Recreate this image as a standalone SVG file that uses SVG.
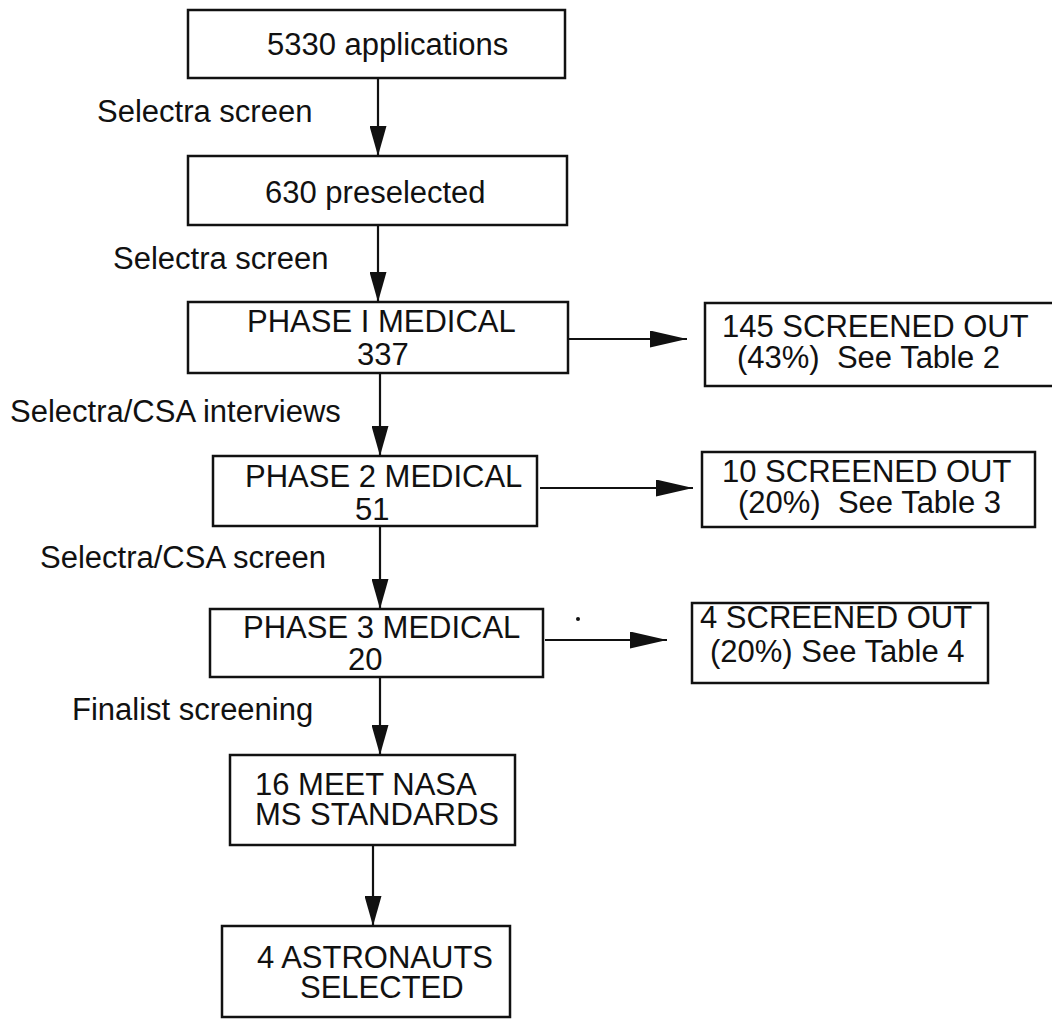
<svg xmlns="http://www.w3.org/2000/svg" width="1052" height="1019" viewBox="0 0 1052 1019">
<style>
  .box { fill: #fff; stroke: #111; stroke-width: 2.5; }
  .t { font-family: "Liberation Sans", Arial, Helvetica, sans-serif; font-size: 31px; fill: #111; }
  .conn { stroke: #111; stroke-width: 2.2; fill: none; }
</style>
<defs>
  <marker id="av" markerUnits="userSpaceOnUse" markerWidth="31" markerHeight="17" refX="30" refY="8.5" orient="auto">
    <path d="M0,0 L30,8.5 L0,17 z" fill="#111"/>
  </marker>
  <marker id="ah" markerUnits="userSpaceOnUse" markerWidth="38" markerHeight="17" refX="37" refY="8.5" orient="auto">
    <path d="M0,0 L37,8.5 L0,17 z" fill="#111"/>
  </marker>
</defs>
<rect width="1052" height="1019" fill="#fff"/>

<g id="connectors">
  <line class="conn" x1="378" y1="78" x2="378" y2="156" marker-end="url(#av)"/>
  <line class="conn" x1="378" y1="225" x2="378" y2="302" marker-end="url(#av)"/>
  <line class="conn" x1="380" y1="373" x2="380" y2="456" marker-end="url(#av)"/>
  <line class="conn" x1="380" y1="526" x2="380" y2="609" marker-end="url(#av)"/>
  <line class="conn" x1="380" y1="677" x2="380" y2="755" marker-end="url(#av)"/>
  <line class="conn" x1="373" y1="845" x2="373" y2="926" marker-end="url(#av)"/>
  <line class="conn" x1="568" y1="339" x2="687" y2="339" marker-end="url(#ah)"/>
  <line class="conn" x1="540" y1="488" x2="693" y2="488" marker-end="url(#ah)"/>
  <line class="conn" x1="545" y1="640" x2="667" y2="640" marker-end="url(#ah)"/>
</g>

<g id="labels">
  <text class="t" x="97" y="122">Selectra screen</text>
  <text class="t" x="113" y="269">Selectra screen</text>
  <text class="t" x="10" y="422">Selectra/CSA interviews</text>
  <text class="t" x="40" y="568">Selectra/CSA screen</text>
  <text class="t" x="72" y="720">Finalist screening</text>
</g>

<g id="n-applications">
  <rect class="box" x="188" y="10" width="377" height="68"/>
  <text class="t" x="267" y="55">5330 applications</text>
</g>
<g id="n-preselected">
  <rect class="box" x="188" y="156" width="379" height="69"/>
  <text class="t" x="265" y="203">630 preselected</text>
</g>
<g id="n-phase1">
  <rect class="box" x="188" y="302" width="380" height="71"/>
  <text class="t" x="247" y="332">PHASE I MEDICAL</text>
  <text class="t" x="357" y="365">337</text>
</g>
<g id="n-phase2">
  <rect class="box" x="213" y="456" width="324" height="70"/>
  <text class="t" x="245" y="487">PHASE 2 MEDICAL</text>
  <text class="t" x="355" y="520">51</text>
</g>
<g id="n-phase3">
  <rect class="box" x="210" y="609" width="333" height="68"/>
  <text class="t" x="243" y="638">PHASE 3 MEDICAL</text>
  <text class="t" x="348" y="670">20</text>
</g>
<g id="n-meet">
  <rect class="box" x="230" y="755" width="285" height="90"/>
  <text class="t" x="255" y="795">16 MEET NASA</text>
  <text class="t" x="255" y="825">MS STANDARDS</text>
</g>
<g id="n-astronauts">
  <rect class="box" x="222" y="926" width="288" height="91"/>
  <text class="t" x="257" y="968">4 ASTRONAUTS</text>
  <text class="t" x="300" y="998">SELECTED</text>
</g>
<g id="n-out1">
  <rect class="box" x="705" y="303" width="352" height="83"/>
  <text class="t" x="722" y="337">145 SCREENED OUT</text>
  <text class="t" x="737" y="368" xml:space="preserve">(43%)  See Table 2</text>
</g>
<g id="n-out2">
  <rect class="box" x="702" y="452" width="333" height="75"/>
  <text class="t" x="722" y="482">10 SCREENED OUT</text>
  <text class="t" x="738" y="513" xml:space="preserve">(20%)  See Table 3</text>
</g>
<g id="n-out3">
  <rect class="box" x="692" y="603" width="296" height="80"/>
  <text class="t" x="700" y="628">4 SCREENED OUT</text>
  <text class="t" x="710" y="662">(20%) See Table 4</text>
</g>
<circle cx="578" cy="619" r="2" fill="#111"/>
</svg>
